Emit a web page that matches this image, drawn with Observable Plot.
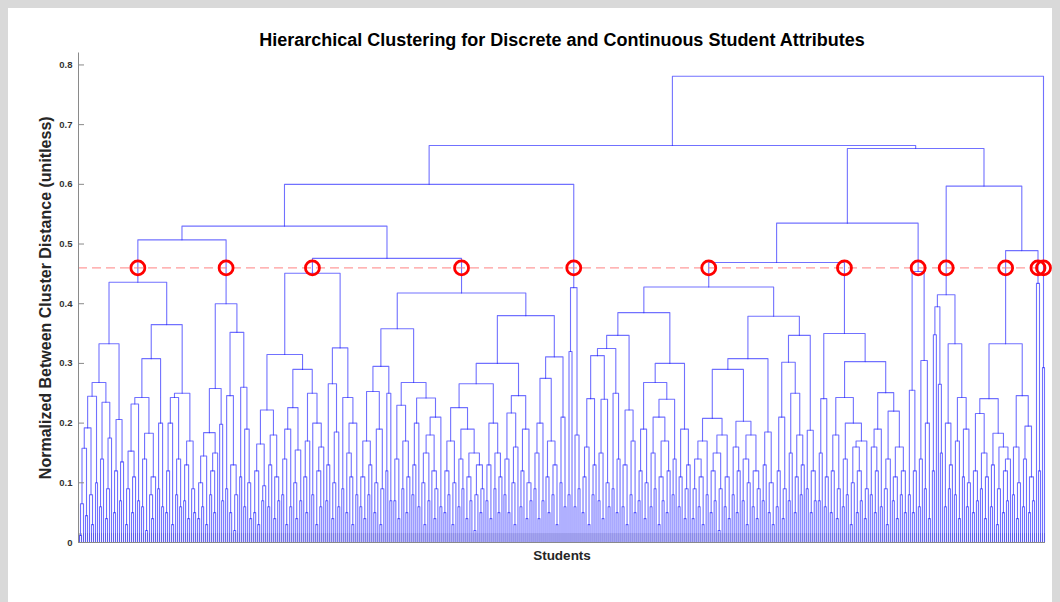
<!DOCTYPE html>
<html><head><meta charset="utf-8">
<script src="https://cdn.jsdelivr.net/npm/d3@7"></script>
<script src="https://cdn.jsdelivr.net/npm/@observablehq/plot@0.6"></script>
<style>
html,body{margin:0;padding:0;background:#d9d9d9;width:1060px;height:602px;overflow:hidden;}
#panel{position:absolute;left:8px;top:8px;width:1044px;height:594px;background:#fff;}
</style></head><body><div id="panel"></div>
<script>
// Merge heights (x100) between adjacent students (leaf order), one array per cluster cut at 0.46
const clusterK = [1.2,6.5,15.8,4.5,19.2,8,3,24.5,10,26.8,6,14,23.5,4,9,17.5,33.3,5,12,20.6,7,13.5,43.6,3,9,15.3,5,11,23.2,7,24.3,6,14,2,18.3,8,4,11,30.8,9,20,6,36.5,5,12,20,3,24.3,8,14,6,25,7,13,4,17,9,5];
const clusterL = [4,10,6,14.5,3,18.4,8,12,5,15,25.8,19.8,7,40,9,24.6,5,13,2,8,35.2,11,26,6,19,10,4];
const clusterM = [5,12,3,16.5,7,9.5,22.2,6,13,18,4,11,7,31.5,8,14,3,19,6,22.6,10,4,15.5,7,29,11,5,17,25,8,20,3,12,6,16,45.1,7,13,26.6,4,10,18.5,6,32.6,9,24.3,5,15,11,3,20,8];
const clusterN = [6,11,4,17,8,13,25.3,5,10,19,3,9,29.5,12,25,7,35.8,7,14,4,23,9,17,5,11,26.8,8,13,20,6,24.2,10,3,15,7,18,12,4,9,21,6,41.8,
  5,12,8,17,3,10,22.6,6,14,9,19,4,11,7,15,2,8,13,5,9,26.6,7,13,4,20,9,15,5,11,30,8,14,5,21.7,10,3,16,24.6,6,12,19,4,10,7,38,9,15,4,20,7,27.5,11,5,17,8,13,3,31.1,10,21,6];
const clusterH = [8,32,42.7,6,18,9];
const clusterQ = [5,11,16,3,24.1,8,13,31.3,7,15,4,24,10,6,32.5,9,25,5,14,34.7,6,13,3,22.2,8,17,5,38.5,7,12,19,4,10,26.8,6,15,9,21,3,11,7,17,5,12,24,8,14,30,6,11,19,4,9,13,42.8,
  4,9,14,6,11,3,17,8,20.8,5,12,7,15,2,9,18,6,11,4,29,8,16,5,12,20.3,7,14,3,10,18,6,12,4,9,30.8,7,13,18.5,5,10,3,37.9,6,12,21,4,9,30.2,7,15,25,5,11,18,8,13,34.7,9,18.8,5,12,7];
const clusterR = [7,15,24.1,6,11,35,5,12,18,4,9,24.3,6,14,8,20,3,10,16,5,12,7,17,4,9,30.3,8,16,5,12,19,6,25.1,9,3,14,22,7,11,4,16,8,12,5];
const clusterP = [8,25.5,5,12,45.4,6,14,30.5,9,20,4];
const clusterS = [12,34.8,39.5,26.5,15,41.5,6,20,9,13,33.3,8,17,4,24.3,11,19,6,10];
const clusterT = [5,12,7,21.6,9,15,4,11,24.1,6,13,18.3,3,9,16,5,12,7,14,33.3,8,16,4,10,24.6,6,14,19.5,5,11,7];
const clusterU = [43.4,12];
const clusterZ = [29.3];
// Merge heights (x100) joining neighbouring clusters
const betweenClusterHeights = [50.7,53,47.6,60,66.5,46.9,53.5,66,59.7,48.9,78.1];
const cutHeight = 0.46;
const yTicks = [0,0.1,0.2,0.3,0.4,0.5,0.6,0.7,0.8];
const titleText = "Hierarchical Clustering for Discrete and Continuous Student Attributes";
const xLabel = "Students";
const yLabel = "Normalized Between Cluster Distance (unitless)";

const clusters = [clusterK,clusterL,clusterM,clusterN,clusterH,clusterQ,clusterR,clusterP,clusterS,clusterT,clusterU,clusterZ];
const gaps = [];
clusters.forEach((c,i)=>{ gaps.push(...c); if (i < betweenClusterHeights.length) gaps.push(betweenClusterHeights[i]); });
const heights = gaps.map(v=>v/100);
const N = heights.length + 1;

function build(lo, hi){
  if (lo === hi) return {x: lo, h: 0};
  let k = lo;
  for (let j = lo; j < hi; j++) if (heights[j-1] > heights[k-1]) k = j;
  const left = build(lo, k), right = build(k+1, hi);
  return {x: (left.x + right.x)/2, h: heights[k-1], left, right};
}
const root = build(1, N);
const pts = [], cuts = [];
let id = 0;
(function walk(n, parentH){
  if (parentH > cutHeight && n.h < cutHeight) cuts.push({x: n.x, y: cutHeight});
  if (!n.left) return;
  const z = id++;
  pts.push({z, x: n.left.x, y: n.left.h}, {z, x: n.left.x, y: n.h}, {z, x: n.right.x, y: n.h}, {z, x: n.right.x, y: n.right.h});
  walk(n.left, n.h); walk(n.right, n.h);
})(root, Infinity);

const W = 1044, H = 594, mL = 70, mR = 7, mT = 44.5, mB = 60;
const chart = Plot.plot({
  width: W, height: H,
  marginLeft: mL, marginRight: mR, marginTop: mT, marginBottom: mB,
  x: {domain: [0.5, N + 0.5], axis: null},
  y: {domain: [0, 0.82], axis: null},
  style: {background: "transparent", fontFamily: "'Liberation Sans', Arial, sans-serif", overflow: "visible"},
  marks: [
    Plot.ruleX(d3.range(1, N + 1), {y1: 0, y2: 0.015, stroke: "#333", strokeWidth: 0.6, strokeOpacity: 0.45}),
    Plot.line(pts, {x: "x", y: "y", z: "z", stroke: "#1a1aff", strokeOpacity: 0.62, strokeWidth: 1.1}),
    Plot.ruleY([cutHeight], {stroke: "#ff7070", strokeOpacity: 0.7, strokeDasharray: "9,5", strokeWidth: 1.4}),
    Plot.dot(cuts, {x: "x", y: "y", r: 7, stroke: "#ff0000", strokeWidth: 2.8, fill: "none"}),
    Plot.ruleX([0.5], {stroke: "#8a8a8a", strokeWidth: 1}),
    Plot.ruleY([0], {stroke: "#8a8a8a", strokeWidth: 1}),
    Plot.tickY(yTicks, {y: d => d, stroke: "#8a8a8a", insetRight: W - mL - mR - 6}),
    Plot.text(yTicks, {y: d => d, text: d => String(d), frameAnchor: "left", dx: -6, textAnchor: "end", fontSize: 9.5, fontWeight: "bold", fill: "#333"}),
    Plot.text([titleText], {frameAnchor: "top", dy: -12.5, lineAnchor: "middle", fontSize: 18, fontWeight: "bold", fill: "#000"}),
    Plot.text([xLabel], {frameAnchor: "bottom", dy: 13, lineAnchor: "middle", fontSize: 13.5, fontWeight: "bold", fill: "#262626"}),
    Plot.text([yLabel], {frameAnchor: "left", dx: -33, rotate: -90, textAnchor: "middle", lineAnchor: "middle", fontSize: 16, fontWeight: "bold", fill: "#262626"})
  ]
});
document.getElementById("panel").appendChild(chart);
</script>
</body></html>
